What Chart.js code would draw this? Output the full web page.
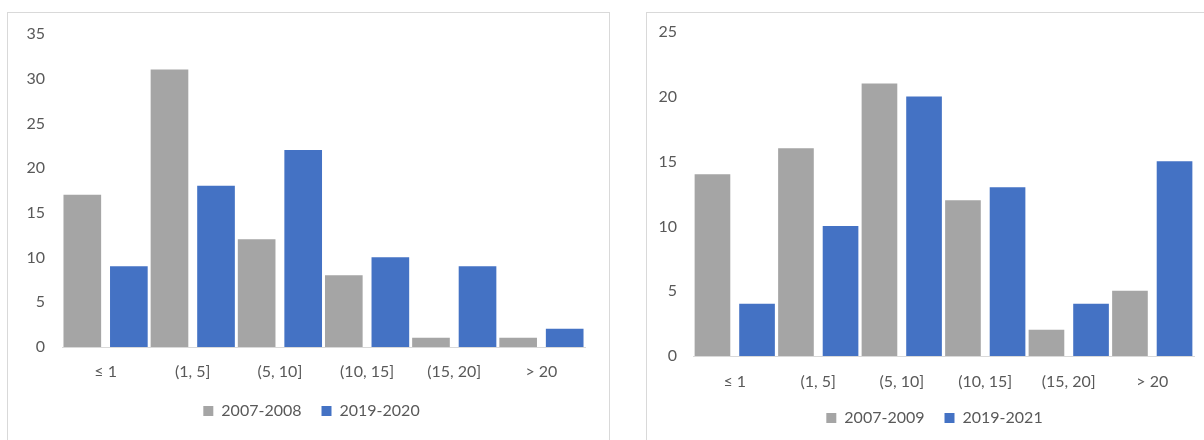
<!DOCTYPE html>
<html>
<head>
<meta charset="utf-8">
<script src="https://cdn.jsdelivr.net/npm/chart.js@4/dist/chart.umd.min.js"></script>
<style>
  html, body { margin: 0; padding: 0; background: #fff; width: 1204px; height: 440px; overflow: hidden; }
  .panel { position: absolute; box-sizing: border-box; border: 1px solid #d9d9d9; background: #fff; }
  #panelLeft { left: 7px; top: 12px; width: 603px; height: 470px; }
  #panelRight { left: 646px; top: 12px; width: 620px; height: 470px; }
  canvas { position: absolute; }
  #chartLeft { left: 8px; top: 13px; }
  #chartRight { left: 647px; top: 13px; }
</style>
</head>
<body>
<div class="panel" id="panelLeft"></div>
<div class="panel" id="panelRight"></div>
<canvas id="chartLeft" width="601" height="416"></canvas>
<canvas id="chartRight" width="573" height="423"></canvas>
<script>
// Size bands shared by both charts
const categories = ['≤ 1', '(1, 5]', '(5, 10]', '(10, 15]', '(15, 20]', '> 20'];

// Left chart
const leftSeriesNames = ['2007-2008', '2019-2020'];
const leftEarly = [17, 31, 12, 8, 1, 1];
const leftLate = [9, 18, 22, 10, 9, 2];
const leftYTicks = [0, 5, 10, 15, 20, 25, 30, 35];

// Right chart
const rightSeriesNames = ['2007-2009', '2019-2021'];
const rightEarly = [14, 16, 21, 12, 2, 5];
const rightLate = [4, 10, 20, 13, 4, 15];
const rightYTicks = [0, 5, 10, 15, 20, 25];

const GREY = '#a5a5a5';
const BLUE = '#4472c4';
const TEXT = '#595959';
const FONT = 'Lato, "Open Sans", sans-serif';

// Bars sit on a linear band axis: each series is nudged to one side of its band
function points(values, shift) {
  return values.map((v, i) => ({ x: i + shift, y: v }));
}

// Moves the bottom legend sideways without touching the plot area
const legendNudge = {
  id: 'legendNudge',
  afterLayout(chart, args, opts) {
    const lg = chart.legend;
    if (lg && opts.dx) { lg.left += opts.dx; lg.right += opts.dx; }
  }
};

function buildChart(canvasId, s) {
  return new Chart(document.getElementById(canvasId), {
    type: 'bar',
    plugins: [legendNudge],
    data: {
      datasets: [
        { label: s.names[0], data: points(s.early, -0.267), backgroundColor: GREY, borderWidth: 0, barThickness: s.barWidth, grouped: false },
        { label: s.names[1], data: points(s.late, 0.267), backgroundColor: BLUE, borderWidth: 0, barThickness: s.barWidth, grouped: false }
      ]
    },
    options: {
      responsive: false,
      animation: false,
      events: [],
      layout: { padding: { top: s.top, right: s.right, bottom: 0, left: 0 } },
      plugins: {
        tooltip: { enabled: false },
        legendNudge: { dx: s.legendDx },
        legend: {
          position: 'bottom',
          labels: {
            boxWidth: 10, boxHeight: 10, padding: 20,
            color: TEXT, font: { family: FONT, size: 16 }
          }
        }
      },
      scales: {
        x: {
          type: 'linear',
          min: -0.5, max: categories.length - 0.5,
          offset: false,
          grid: { display: false, drawTicks: false },
          border: { display: true, color: '#d9d9d9', width: 1 },
          ticks: {
            color: TEXT, font: { family: FONT, size: 16 },
            padding: s.xPad, maxRotation: 0, autoSkip: false,
            callback: v => categories[v] !== undefined ? categories[v] : ''
          },
          afterBuildTicks: ax => { ax.ticks = categories.map((_, i) => ({ value: i })); },
          afterFit: ax => { ax.height = s.xHeight; }
        },
        y: {
          min: 0, max: s.yTicks[s.yTicks.length - 1],
          grid: { display: false, drawTicks: false },
          border: { display: false },
          ticks: { color: TEXT, font: { family: FONT, size: 16 }, padding: s.yPad },
          afterBuildTicks: ax => { ax.ticks = s.yTicks.map(v => ({ value: v })); },
          afterFit: ax => { ax.width = s.yWidth; ax.paddingTop = 0; ax.paddingBottom = 0; }
        }
      }
    }
  });
}

buildChart('chartLeft', {
  names: leftSeriesNames, early: leftEarly, late: leftLate, yTicks: leftYTicks,
  barWidth: 37, top: 21, right: 24, yWidth: 54, yPad: 17, xPad: 15, xHeight: 36, legendDx: 15
});

buildChart('chartRight', {
  names: rightSeriesNames, early: rightEarly, late: rightLate, yTicks: rightYTicks,
  barWidth: 35, top: 19, right: 26, yWidth: 46, yPad: 16, xPad: 16, xHeight: 34, legendDx: 14
});
</script>
</body>
</html>
